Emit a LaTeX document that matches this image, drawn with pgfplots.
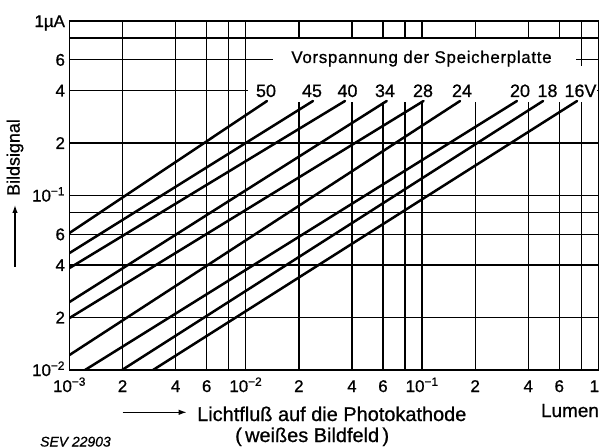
\documentclass[border=0pt]{standalone}
\usepackage{fontspec}
\setmainfont[FakeBold=0.8]{Liberation Sans}
\newfontfamily\spaced[LetterSpace=4,FakeBold=0.8]{Liberation Sans}
\usepackage{pgfplots}
\pgfplotsset{compat=1.18}
\usetikzlibrary{arrows.meta}
\begin{document}
\begin{tikzpicture}
\useasboundingbox (-69.5bp,-78bp) rectangle (530.5bp,370bp);
\begin{axis}[
  at={(0,0)}, anchor=south west,
  scale only axis, width=528.9bp, height=349bp,
  xmode=log, ymode=log,
  xmin=1e-3, xmax=1, ymin=1e-2, ymax=1,
  xtick={1e-3,2e-3,4e-3,6e-3,1e-2,2e-2,4e-2,6e-2,1e-1,2e-1,4e-1,6e-1,1},
  xticklabels={10\textsuperscript{−3},2,4,6,10\textsuperscript{−2},2,4,6,10\textsuperscript{−1},2,4,6,1\hspace*{8bp}},
  minor xtick={8e-3,8e-2,8e-1},
  ytick={0.01,0.02,0.04,0.06,0.1,0.2,0.4,0.6,1},
  yticklabels={10\textsuperscript{−2},2,4,6,10\textsuperscript{−1},2,4,6,1µA},
  minor ytick={0.08,0.8},
  grid=both,
  major grid style={black, line width=1.3bp},
  minor grid style={black, line width=1.3bp},
  axis line style={black, line width=1.8bp},
  major tick length=0pt, minor tick length=0pt,
  tick label style={font=\fontsize{17}{20}\selectfont},
  xticklabel style={anchor=base, yshift=-22bp},
  yticklabel style={anchor=base east, yshift=-6bp, xshift=-1bp},
  no markers,
  clip=true,
]
\fill[white] (axis cs:0.0143,0.345) rectangle (axis cs:0.746,0.785);
\fill[white] (axis cs:0.0103,0.345) rectangle (axis cs:0.0143,0.59);
\fill[white] (axis cs:0.74,0.345) rectangle (axis cs:0.98,0.55);
\addplot[black, solid, line width=2.5bp, line cap=round] coordinates {(0.001,0.0610) (0.01319,0.348)};
\addplot[black, solid, line width=2.5bp, line cap=round] coordinates {(0.001,0.0468) (0.02405,0.348)};
\addplot[black, solid, line width=2.5bp, line cap=round] coordinates {(0.001,0.0384) (0.03653,0.348)};
\addplot[black, solid, line width=2.5bp, line cap=round] coordinates {(0.001,0.02453) (0.0630,0.348)};
\addplot[black, solid, line width=2.5bp, line cap=round] coordinates {(0.001,0.01986) (0.1019,0.348)};
\addplot[black, solid, line width=2.5bp, line cap=round] coordinates {(0.001,0.01219) (0.1641,0.348)};
\addplot[black, solid, line width=2.5bp, line cap=round] coordinates {(0.001225,0.01) (0.3451,0.348)};
\addplot[black, solid, line width=2.5bp, line cap=round] coordinates {(0.001986,0.01) (0.4853,0.348)};
\addplot[black, solid, line width=2.5bp, line cap=round] coordinates {(0.002978,0.01) (0.7568,0.348)};
\draw[black, line width=1.8bp] (rel axis cs:0,0) rectangle (rel axis cs:1,1);
\end{axis}
% labels in the plot
\node[anchor=base, font=\spaced\fontsize{17}{20}\selectfont] at (352bp,307bp) {Vorspannung der Speicherplatte};
\begin{scope}[every node/.style={anchor=base, font=\fontsize{18}{21}\selectfont, inner sep=1bp}]
\node at (196.5bp,273bp) {50};
\node at (242.5bp,273bp) {45};
\node at (278bp,273bp) {40};
\node at (315.5bp,273bp) {34};
\node at (353.5bp,273bp) {28};
\node at (392.5bp,273bp) {24};
\node at (450.5bp,273bp) {20};
\node at (478bp,273bp) {18};
\node at (511bp,273bp) {16V};
\end{scope}
% y axis label
\node[rotate=90, font=\fontsize{18}{21}\selectfont] at (-54.5bp,212.5bp) {Bildsignal};
\draw[line width=1.3bp, -{Latex[length=8bp,width=5.5bp]}] (-54.5bp,103bp) -- (-54.5bp,165bp);
% x axis label
\draw[line width=1.3bp, -{Latex[length=8bp,width=5.5bp]}] (53.2bp,-42.3bp) -- (117.2bp,-42.3bp);
\node[anchor=base west, inner sep=0pt, font=\fontsize{20}{24}\selectfont] at (127.5bp,-51bp) {Lichtfluß auf die Photokathode};
\node[anchor=base west, inner sep=0pt, font=\fontsize{20}{24}\selectfont] at (165.5bp,-72bp) {(\,weißes Bildfeld\,)};
\node[anchor=base, inner sep=0pt, font=\fontsize{19}{22}\selectfont] at (500.5bp,-47bp) {Lumen};
\node[anchor=base west, inner sep=0pt, font=\itshape\fontsize{14}{17}\selectfont] at (-29.5bp,-76.5bp) {SEV 22903};
\end{tikzpicture}
\end{document}
